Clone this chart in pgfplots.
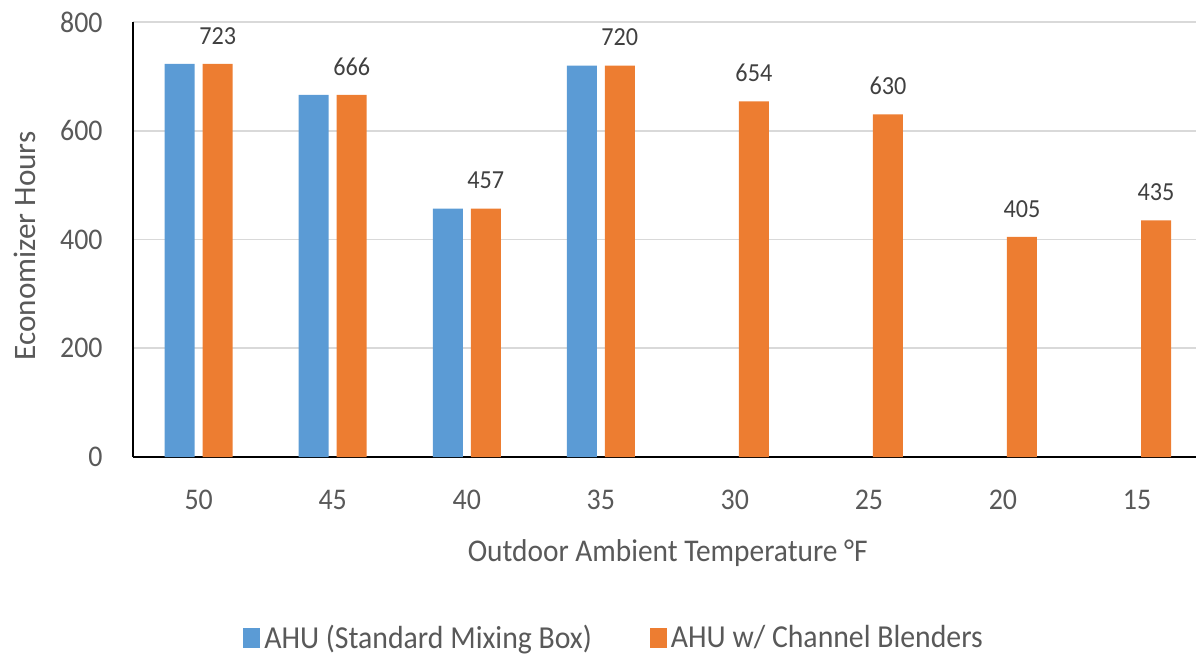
\documentclass[border=0pt]{standalone}
\usepackage{pgfplots}
\pgfplotsset{compat=1.18}
\usepackage{fontspec}
\setmainfont[FakeStretch=0.93]{Carlito}
\newfontfamily\cwide{Carlito}
\definecolor{cblue}{HTML}{5B9BD5}
\definecolor{corange}{HTML}{ED7D31}
\definecolor{ctext}{HTML}{595959}
\definecolor{clabel}{HTML}{404040}
\begin{document}
\begin{tikzpicture}
\begin{axis}[
  at={(0,0)}, anchor=south west,
  width=531.5pt, height=217.5pt, scale only axis,
  xmin=-0.49, xmax=7.44, ymin=0, ymax=800,
  xtick={0,...,7}, xticklabels={50,45,40,35,30,25,20,15},
  ytick={0,200,400,600,800},
  ymajorgrids, grid style={color=black!15, line width=0.8pt},
  axis lines*=left, axis line style={-, black, line width=1.2pt},
  major tick length=0pt,
  /pgf/number format/assume math mode=true,
  tick label style={font=\fontsize{15}{15}\selectfont, text=ctext},
  yticklabel style={anchor=east, inner sep=0pt, xshift=-15pt},
  xticklabel style={anchor=north, inner sep=0pt, yshift=-16.5pt},
  xlabel={Outdoor Ambient Temperature °F},
  ylabel={Economizer Hours},
  xlabel style={at={(axis description cs:0.503,-0.2207)}, anchor=center,
    font=\fontsize{15.8}{15.8}\selectfont, text=ctext},
  ylabel style={at={(axis description cs:-0.1016,0.485)}, anchor=center,
    font=\cwide\fontsize{15.6}{15.6}\selectfont, text=ctext},
  legend style={at={(axis description cs:0.4535,-0.416)}, anchor=center,
    draw=none, fill=none, legend columns=2,
    font=\fontsize{16}{16}\selectfont, text=ctext,
    /tikz/every even column/.append style={column sep=27pt}},
  legend image code/.code={\fill[#1,/tikz/.cd] (0pt,-4.8pt) rectangle (8.5pt,4.8pt);},
  clip=false,
]
\addplot[ybar, bar width=15pt, bar shift=-9.5pt, fill=cblue, draw=none]
  coordinates {(0,723) (1,666) (2,457) (3,720)};
\addlegendentry{AHU (Standard Mixing Box)}
\addplot[ybar, bar width=15pt, bar shift=9.5pt, fill=corange, draw=none,
  nodes near coords,
  nodes near coords style={anchor=south, inner sep=0pt, yshift=9.5pt, xshift=9.5pt,
    font=\fontsize{13}{13}\selectfont, text=clabel},
  /pgf/number format/assume math mode=true]
  coordinates {(0,723) (1,666) (2,457) (3,720) (4,654) (5,630) (6,405) (7,435)};
\addlegendentry{AHU w/ Channel Blenders}
\end{axis}
\pgfresetboundingbox
\useasboundingbox (-66.5pt,-98.5pt) rectangle (531.5pt,228.5pt);
\end{tikzpicture}
\end{document}
